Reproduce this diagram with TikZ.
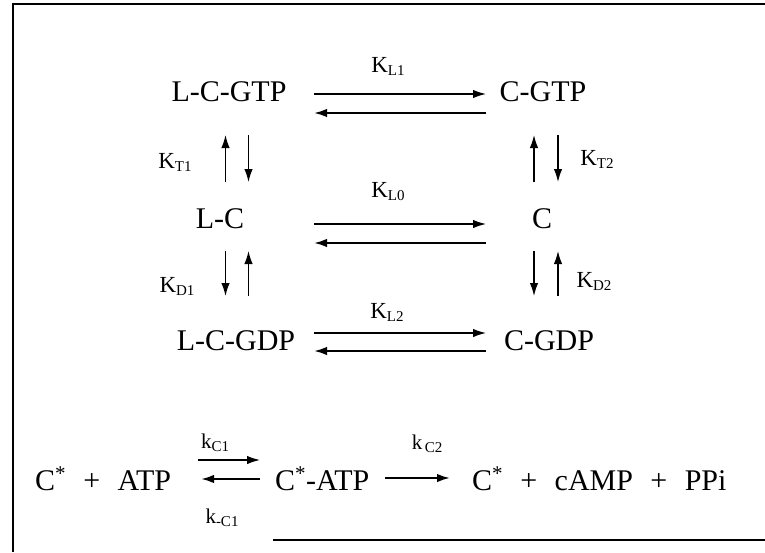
\documentclass[tikz,border=0pt]{standalone}
\usepackage{fontspec}
\setmainfont{Liberation Serif}
\usetikzlibrary{arrows.meta}

\newcommand{\Kr}[1]{{\fontsize{23}{23}\selectfont K}\raisebox{-3pt}{\fontsize{15}{15}\selectfont #1}}
\newcommand{\kr}[1]{{\fontsize{21}{21}\selectfont k}\raisebox{-3pt}{\fontsize{15}{15}\selectfont #1}}
\newcommand{\cstar}{C\textsuperscript{*}}
\newcommand{\gp}{\hspace{0.58em}}

\begin{document}
\begin{tikzpicture}[x=1pt, y=-1pt,
    every node/.style={inner sep=0pt, outer sep=0pt},
    species/.style={font=\fontsize{30}{30}\selectfont, anchor=base},
    eqn/.style={font=\fontsize{30}{30}\selectfont, anchor=base west},
    rate/.style={anchor=base},
    fwd/.style={-{Latex[length=13pt,width=8.5pt]}, line width=1.4pt},
    bwd/.style={-{Latex[length=13pt,width=8.5pt]}, line width=2pt}
]
\useasboundingbox (0,0) rectangle (765,552);
% frame
\draw[line width=1.8pt] (765,4) -- (13,4) -- (13,552);
\draw[line width=1.8pt] (273,540) -- (765,540);

% species
\node[species] (lcgtp) at (229,101) {L-C-GTP};
\node[species] (cgtp) at (543,101) {C-GTP};
\node[species] (lc) at (220,228) {L-C};
\node[species] (c) at (542,228) {C};
\node[species] (lcgdp) at (236,350) {L-C-GDP};
\node[species] (cgdp) at (549,350) {C-GDP};

% arrow columns
\coordinate (colL) at (314,0);
\coordinate (colR) at (486,0);
\coordinate (vL1) at (225.5,0);
\coordinate (vL2) at (248.5,0);
\coordinate (vR1) at (534,0);
\coordinate (vR2) at (558,0);

% horizontal pairs
\draw[fwd] ([yshift=7pt]lcgtp.base -| colL) -- ([yshift=7pt]cgtp.base -| colR);
\draw[bwd] ([yshift=-12pt]cgtp.base -| colR) -- ([yshift=-12pt]lcgtp.base -| colL);
\draw[fwd] ([yshift=4pt]lc.base -| colL) -- ([yshift=4pt]c.base -| colR);
\draw[bwd] ([yshift=-15pt]c.base -| colR) -- ([yshift=-15pt]lc.base -| colL);
\draw[fwd] ([yshift=17pt]lcgdp.base -| colL) -- ([yshift=17pt]cgdp.base -| colR);
\draw[bwd] ([yshift=-1pt]cgdp.base -| colR) -- ([yshift=-1pt]lcgdp.base -| colL);

% vertical pairs
\draw[fwd] ([yshift=46pt]lc.base -| vL1) -- ([yshift=-34pt]lcgtp.base -| vL1);
\draw[fwd] ([yshift=-34pt]lcgtp.base -| vL2) -- ([yshift=46pt]lc.base -| vL2);
\draw[fwd] ([yshift=-23pt]lc.base -| vL1) -- ([yshift=54pt]lcgdp.base -| vL1);
\draw[fwd] ([yshift=54pt]lcgdp.base -| vL2) -- ([yshift=-23pt]lc.base -| vL2);
\draw[fwd] ([yshift=46pt]c.base -| vR1) -- ([yshift=-34pt]cgtp.base -| vR1);
\draw[fwd] ([yshift=-34pt]cgtp.base -| vR2) -- ([yshift=46pt]c.base -| vR2);
\draw[fwd] ([yshift=-23pt]c.base -| vR1) -- ([yshift=54pt]cgdp.base -| vR1);
\draw[fwd] ([yshift=54pt]cgdp.base -| vR2) -- ([yshift=-23pt]c.base -| vR2);

% rate constants
\node[rate] (kl1) at (388,72) {\Kr{L1}};
\node[rate] (kl0) at (388,197) {\Kr{L0}};
\node[rate] (kl2) at (387,318) {\Kr{L2}};
\node[rate] (kt1) at (175,168) {\Kr{T1}};
\node[rate] (kt2) at (597,165) {\Kr{T2}};
\node[rate] (kd1) at (177,292) {\Kr{D1}};
\node[rate] (kd2) at (594,287) {\Kr{D2}};

% adenylyl cyclase reaction
\node[eqn] (reac) at (35,490) {\cstar\gp+\gp ATP};
\node[eqn] (cplx) at (275,490) {\cstar-ATP};
\node[eqn] (prod) at (472,490) {\cstar\gp+\gp cAMP\gp+\gp PPi};
\draw[fwd, shorten <=27pt, shorten >=15pt] ([yshift=30pt]reac.base east) -- ([yshift=30pt]cplx.base west);
\draw[bwd, shorten <=15pt, shorten >=30pt] ([yshift=11pt]cplx.base west) -- ([yshift=11pt]reac.base east);
\draw[bwd, shorten <=16pt, shorten >=22pt] ([yshift=12pt]cplx.base east) -- ([yshift=12pt]prod.base west);
\node[rate] (kc1) at (215,448) {\kr{C1}};
\node[rate] (kmc1) at (222,523) {\kr{-C1}};
\node[rate] (kc2) at (427,449) {\kr{\,C2}};
\end{tikzpicture}
\end{document}
